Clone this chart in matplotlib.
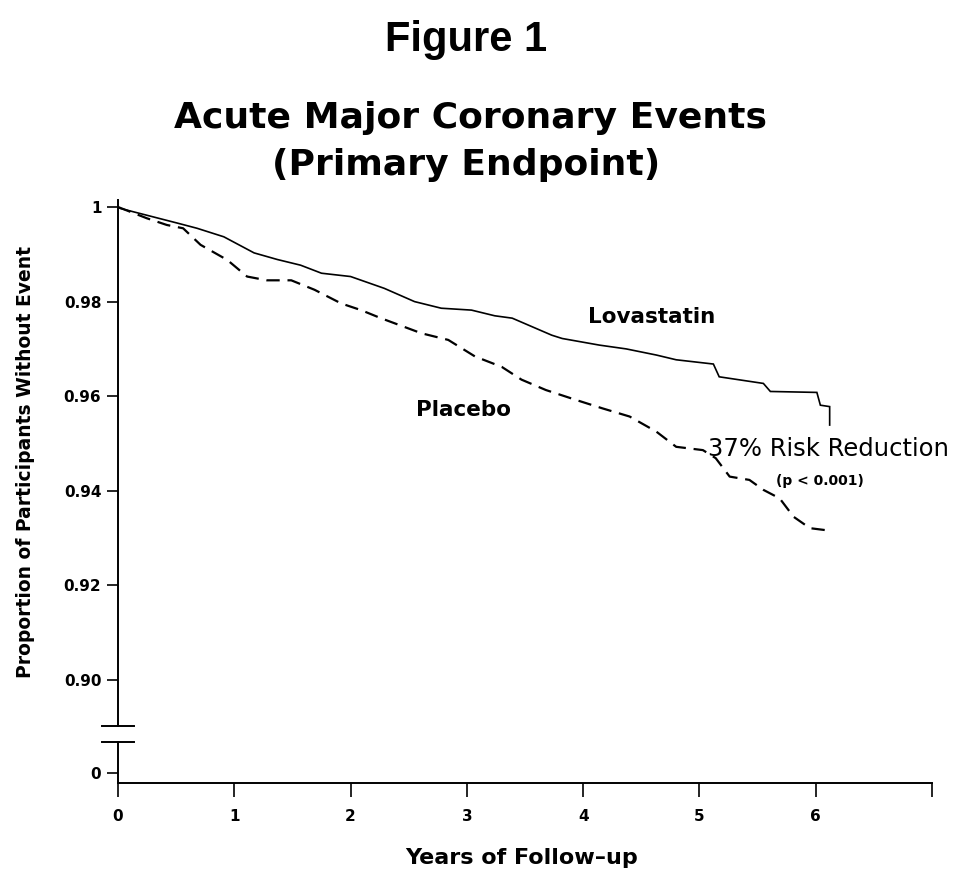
import numpy as np
import matplotlib
matplotlib.use("Agg")
import matplotlib.pyplot as plt
from matplotlib.lines import Line2D

plt.rcParams.update({
    "font.family": "sans-serif",
    "font.sans-serif": ["DejaVu Sans"],
    "axes.linewidth": 1.4,
})

# =============================
#  Data
# =============================
lova_t = [0.0, 0.02, 0.51, 0.68, 0.91, 1.17, 1.37, 1.57, 1.75, 2.0, 2.29, 2.55,
          2.78, 3.04, 3.24, 3.39, 3.73, 3.82, 4.14, 4.37, 4.63, 4.80, 5.12,
          5.17, 5.55, 5.61, 6.01, 6.04, 6.12, 6.12]
lova_v = [1.0, 0.9997, 0.9966, 0.9955, 0.9937, 0.9903, 0.9889, 0.9877, 0.9860,
          0.9853, 0.9828, 0.9800, 0.9786, 0.9782, 0.9770, 0.9765, 0.9729,
          0.9722, 0.9708, 0.9700, 0.9687, 0.9677, 0.9668, 0.9641, 0.9627,
          0.9610, 0.9608, 0.9581, 0.9578, 0.9539]

plac_t = [0.0, 0.25, 0.42, 0.56, 0.71, 0.94, 1.11, 1.28, 1.49, 1.69, 1.92, 2.09,
          2.26, 2.61, 2.84, 3.07, 3.30, 3.47, 3.68, 3.94, 4.17, 4.40, 4.63,
          4.80, 5.03, 5.14, 5.26, 5.43, 5.55, 5.69, 5.81, 5.95, 6.08, 6.11]
plac_v = [1.0, 0.9976, 0.9962, 0.9955, 0.9920, 0.9888, 0.9853, 0.9845, 0.9845,
          0.9825, 0.9796, 0.9782, 0.9765, 0.9733, 0.9719, 0.9684, 0.9662,
          0.9635, 0.9613, 0.9592, 0.9574, 0.9557, 0.9525, 0.9493, 0.9486,
          0.9469, 0.9430, 0.9423, 0.9402, 0.9384, 0.9345, 0.9321, 0.9317, 0.9303]

x_ticks = [0, 1, 2, 3, 4, 5, 6, 7]
x_labels = ["0", "1", "2", "3", "4", "5", "6", ""]
y_ticks = [0.90, 0.92, 0.94, 0.96, 0.98, 1.0]
y_labels = ["0.90", "0.92", "0.94", "0.96", "0.98", "1"]

# =============================
#  Layout (pixel based)
# =============================
W, H = 955, 880
fig = plt.figure(figsize=(W / 100, H / 100), dpi=100)

def fx(px):
    return px / W

def fy(py):
    return 1 - py / H

left, right = 118, 932
ax = fig.add_axes([fx(left), fy(726), fx(right - left), fy(200) - fy(726)])
axb = fig.add_axes([fx(left), fy(783), fx(right - left), fy(742) - fy(783)])

px_per_unit = (680 - 207) / 0.10
ax.set_ylim(0.90 - (726 - 680) / px_per_unit, 1.0 + (207 - 200) / px_per_unit)
ax.set_xlim(0, 7)
axb.set_xlim(0, 7)
axb.set_ylim(-10, 31)  # 0 sits 10 px above the x axis line

ax.plot(lova_t, lova_v, color="black", linewidth=1.2, solid_joinstyle="miter")
ax.plot(plac_t, plac_v, color="black", linewidth=1.6, linestyle=(0, (6, 3.5)))

for a in (ax, axb):
    a.spines["top"].set_visible(False)
    a.spines["right"].set_visible(False)

tick_font = dict(fontsize=11, fontweight="bold")
ax.spines["bottom"].set_visible(False)
ax.set_xticks([])
ax.set_yticks(y_ticks)
ax.set_yticklabels(y_labels, **tick_font)
ax.tick_params(axis="y", direction="out", length=8, width=1.2, pad=4)

axb.set_yticks([0])
axb.set_yticklabels(["0"], **tick_font)
axb.tick_params(axis="y", direction="out", length=8, width=1.2, pad=4)
axb.set_xticks(x_ticks)
axb.set_xticklabels(x_labels, **tick_font)
axb.tick_params(axis="x", direction="out", length=10, width=1.2, pad=9)

# axis break marks
for py in (726, 742):
    fig.add_artist(Line2D([fx(102), fx(134)], [fy(py), fy(py)], color="black",
                          linewidth=1.4, transform=fig.transFigure))

# =============================
#  Text
# =============================
fig.text(fx(466), fy(51), "Figure 1", ha="center", va="baseline",
         fontsize=30, fontweight="bold",
         family=["Liberation Sans Narrow", "Liberation Sans", "DejaVu Sans"])
fig.text(fx(470), fy(118), "Acute Major Coronary Events", ha="center",
         va="center", fontsize=26, fontweight="bold")
fig.text(fx(466), fy(165), "(Primary Endpoint)", ha="center", va="center",
         fontsize=26, fontweight="bold")

fig.text(fx(26), fy(462), "Proportion of Participants Without Event",
         rotation=90, ha="center", va="center", fontsize=13.5, fontweight="bold")
fig.text(fx(522), fy(858), "Years of Follow\u2013up", ha="center", va="center",
         fontsize=16, fontweight="bold")

ax.text(4.59, 0.9768, "Lovastatin", ha="center", va="center",
        fontsize=15.5, fontweight="bold")
ax.text(2.97, 0.9570, "Placebo", ha="center", va="center",
        fontsize=15.5, fontweight="bold")
ax.text(5.07, 0.9488, "37% Risk Reduction", ha="left", va="center",
        fontsize=17.5)
ax.text(6.04, 0.9420, "(p < 0.001)", ha="center", va="center",
        fontsize=10, fontweight="bold")

fig.savefig("out.png", dpi=100)
